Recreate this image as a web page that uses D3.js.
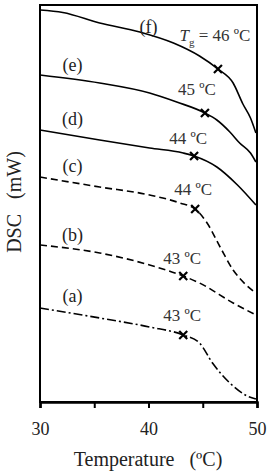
<!DOCTYPE html>
<html>
<head>
<meta charset="utf-8">
<script src="https://cdn.jsdelivr.net/npm/d3@7"></script>
<style>
  body { margin: 0; background: #fff; }
  svg text { font-family: "Liberation Serif", "Times New Roman", serif; }
</style>
</head>
<body>
<div id="chart"></div>
<script>
// DSC curves, temperature (ºC) vs heat flow (arbitrary offset, mW)
var curveNames = ["(a)", "(b)", "(c)", "(d)", "(e)", "(f)"];
var tgText = ["43 ºC", "43 ºC", "44 ºC", "44 ºC", "45 ºC", "46 ºC"];
var tgTemp = [43.2, 43.2, 44.3, 44.2, 45.2, 46.4];

var tempA = [30, 35.5, 40.1, 43.2, 44.7, 45.9, 47.5, 49.1, 49.9];
var dscA  = [9.4, 8.4, 7.5, 6.7, 5.9, 3.9, 1.9, 0.6, 0.3];
var tempB = [30, 35.5, 40.1, 43.2, 44.7, 47.8, 49.9];
var dscB  = [15.7, 14.9, 13.7, 12.6, 11.9, 9.9, 8.7];
var tempC = [30, 35.5, 40.1, 42.9, 44.3, 45.4, 46.6, 47.8, 48.9, 49.9];
var dscC  = [22.5, 21.5, 20.7, 19.9, 19.3, 17.9, 15.5, 13.2, 11.8, 10.9];
var tempD = [30, 35.5, 40.1, 43.2, 44.2, 46.3, 48.2, 49.9];
var dscD  = [27.2, 26.2, 25.4, 24.9, 24.6, 23.5, 21.7, 19.7];
var tempE = [30, 35.5, 40.1, 42.6, 45.2, 46.3, 47.5, 48.4, 49.4, 49.9];
var dscE  = [32.7, 31.9, 30.9, 30.0, 28.9, 28.2, 27.0, 25.9, 24.9, 24.0];
var tempF = [30, 32.1, 35.5, 39.2, 42.3, 44.7, 46.4, 47.8, 48.7, 49.4, 49.9];
var dscF  = [39.2, 38.95, 37.9, 37.0, 35.9, 34.6, 33.3, 31.9, 29.8, 28.4, 26.9];

var xTicks = [30, 35, 40, 45, 50];

var temps = [tempA, tempB, tempC, tempD, tempE, tempF];
var dscs = [dscA, dscB, dscC, dscD, dscE, dscF];

// Line style for each curve
var dashes = ["9,3,2,3", "7,4", "7,4", null, null, null];
// Where the letter goes (temperature, pixel offset above curve)
var letterAt = [[33, -18], [33, -15], [33, -17], [33, -17], [33, -15], [40, -8]];
// Tg label offset from its marker
var tgOffset = [[-1, -20], [-1, -18], [-2, -20], [-6, -18], [-8, -24], [-3, -34]];

var margin = {top: 5, right: 10, bottom: 69, left: 40},
    width = 267 - margin.left - margin.right,
    height = 471 - margin.top - margin.bottom;

var svg = d3.select("#chart")
    .append("svg")
    .attr("width", 267)
    .attr("height", 471);

var g = svg.append("g")
    .attr("transform", "translate(" + margin.left + "," + margin.top + ")");

var x = d3.scaleLinear().domain([30, 50]).range([0, width]);
var y = d3.scaleLinear().domain([0, 39.7]).range([height, 0]);

// value on a curve at temperature t
function dscAt(i, t) {
    var ts = temps[i], ds = dscs[i];
    var j = d3.bisectRight(ts, t);
    if (j <= 0) return ds[0];
    if (j >= ts.length) return ds[ds.length - 1];
    var k = (t - ts[j - 1]) / (ts[j] - ts[j - 1]);
    return ds[j - 1] + k * (ds[j] - ds[j - 1]);
}

var line = d3.line()
    .x(function(d) { return x(d[0]); })
    .y(function(d) { return y(d[1]); })
    .curve(d3.curveMonotoneX);

curveNames.forEach(function(name, i) {
    var pts = temps[i].map(function(t, j) { return [t, dscs[i][j]]; });
    g.append("path")
        .attr("d", line(pts))
        .attr("fill", "none")
        .attr("stroke", "#000")
        .attr("stroke-width", 1.6)
        .attr("stroke-dasharray", dashes[i]);

    // letter label
    var lt = letterAt[i][0];
    g.append("text")
        .attr("x", x(lt))
        .attr("y", y(dscAt(i, lt)) + letterAt[i][1])
        .attr("dy", "0.35em")
        .attr("text-anchor", "middle")
        .attr("font-size", 18)
        .attr("fill", "#222")
        .text(name);

    // Tg marker
    var mx = x(tgTemp[i]), my = y(dscAt(i, tgTemp[i]));
    g.append("path")
        .attr("d", "M" + (mx - 4) + "," + (my - 4) + "L" + (mx + 4) + "," + (my + 4) +
                   "M" + (mx - 4) + "," + (my + 4) + "L" + (mx + 4) + "," + (my - 4))
        .attr("stroke", "#000")
        .attr("stroke-width", 2.2);

    var lab = g.append("text")
        .attr("x", mx + tgOffset[i][0])
        .attr("y", my + tgOffset[i][1])
        .attr("dy", "0.35em")
        .attr("text-anchor", "middle")
        .attr("font-size", 17)
        .attr("fill", "#333");
    if (i == 5) {
        lab.append("tspan").attr("font-style", "italic").text("T");
        lab.append("tspan").attr("font-size", 11).attr("dy", "5").text("g");
        lab.append("tspan").attr("dy", "-5").text(" = " + tgText[i]);
    } else {
        lab.text(tgText[i]);
    }
});

// frame
g.append("rect")
    .attr("width", width)
    .attr("height", height)
    .attr("fill", "none")
    .attr("stroke", "#000")
    .attr("stroke-width", 2);

// x axis
var xAxis = g.append("g")
    .attr("transform", "translate(0," + height + ")")
    .call(d3.axisBottom(x)
        .tickValues(xTicks)
        .tickSize(6)
        .tickPadding(14)
        .tickFormat(function(d) { return d % 10 == 0 ? d : ""; }));
xAxis.select(".domain").attr("stroke-width", 2.5);
xAxis.selectAll(".tick line").attr("stroke-width", 2);
xAxis.selectAll(".tick text")
    .attr("font-family", "Liberation Serif")
    .attr("font-size", 18)
    .attr("fill", "#222");

// axis titles
svg.append("text")
    .attr("x", 148)
    .attr("y", 459)
    .attr("dy", "0.35em")
    .attr("text-anchor", "middle")
    .attr("font-size", 20)
    .attr("fill", "#222")
    .style("white-space", "pre")
    .text("Temperature   (ºC)");

svg.append("text")
    .attr("transform", "translate(14," + 202 + ") rotate(-90)")
    .attr("dy", "0.35em")
    .attr("text-anchor", "middle")
    .attr("font-size", 20)
    .attr("fill", "#222")
    .style("white-space", "pre")
    .text("DSC   (mW)");
</script>
</body>
</html>
